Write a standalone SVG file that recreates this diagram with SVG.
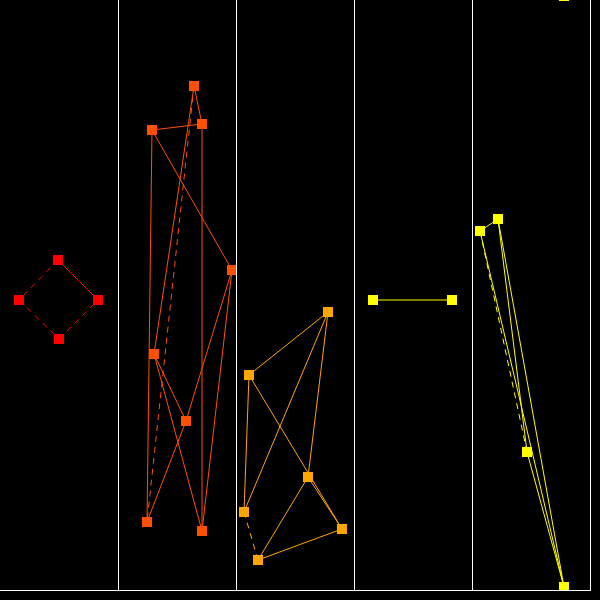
<svg xmlns="http://www.w3.org/2000/svg" width="600" height="600" viewBox="0 0 600 600">
<style>
.bg{fill:#000}
.sep{stroke:#fff;stroke-width:1;fill:none}
.e{stroke-width:1;fill:none}
.d{stroke-dasharray:6,5}
.c1{stroke:#ff0000}.n1{fill:#ff0000}
.c2{stroke:#ff5000}.n2{fill:#ff5000}
.c3{stroke:#ffa500}.n3{fill:#ffa500}
.c4{stroke:#ffff00}.n4{fill:#ffff00}
</style>
<rect class="bg" x="0" y="0" width="600" height="600"/>
<g id="connectors">
<g class="e c1">
<line class="d" x1="58" y1="260" x2="19" y2="300"/>
<line x1="58" y1="260" x2="98" y2="300"/>
<line class="d" x1="19" y1="300" x2="59" y2="339"/>
<line class="d" x1="59" y1="339" x2="98" y2="300"/>
</g>
<g class="e c2">
<line x1="152" y1="130" x2="202" y2="124"/>
<line x1="194" y1="86" x2="202" y2="124"/>
<line x1="152" y1="130" x2="232" y2="270"/>
<line x1="202" y1="124" x2="202" y2="531"/>
<line x1="152" y1="130" x2="147" y2="522"/>
<line x1="194" y1="86" x2="154" y2="354"/>
<line class="d" x1="194" y1="86" x2="147" y2="522"/>
<line x1="232" y1="270" x2="186" y2="421"/>
<line x1="186" y1="421" x2="147" y2="522"/>
<line x1="232" y1="270" x2="202" y2="531"/>
<line x1="154" y1="354" x2="186" y2="421"/>
<line x1="154" y1="354" x2="202" y2="531"/>
</g>
<g class="e c3">
<line x1="249" y1="375" x2="328" y2="312"/>
<line x1="328" y1="312" x2="244" y2="512"/>
<line x1="328" y1="312" x2="308" y2="477"/>
<line x1="249" y1="375" x2="244" y2="512"/>
<line x1="249" y1="375" x2="342" y2="529"/>
<line x1="308" y1="477" x2="342" y2="529"/>
<line x1="308" y1="477" x2="258" y2="560"/>
<line x1="258" y1="560" x2="342" y2="529"/>
<line class="d" x1="244" y1="512" x2="258" y2="560"/>
</g>
<g class="e c4">
<line x1="373" y1="300" x2="452" y2="300"/>
<line x1="480" y1="231" x2="498" y2="219"/>
<line class="d" x1="480" y1="231" x2="527" y2="452"/>
<line x1="480" y1="231" x2="564" y2="587"/>
<line x1="498" y1="219" x2="527" y2="452"/>
<line x1="498" y1="219" x2="564" y2="587"/>
<line x1="527" y1="452" x2="564" y2="587"/>
</g>
</g>
<g id="col1-nodes" class="n1">
<rect id="r1" x="53" y="255" width="10" height="10"/>
<rect id="r2" x="14" y="295" width="10" height="10"/>
<rect id="r3" x="93" y="295" width="10" height="10"/>
<rect id="r4" x="54" y="334" width="10" height="10"/>
</g>
<g id="col2-nodes" class="n2">
<rect id="A" x="189" y="81" width="10" height="10"/>
<rect id="B" x="197" y="119" width="10" height="10"/>
<rect id="C" x="147" y="125" width="10" height="10"/>
<rect id="D" x="227" y="265" width="10" height="10"/>
<rect id="E" x="149" y="349" width="10" height="10"/>
<rect id="F" x="181" y="416" width="10" height="10"/>
<rect id="G" x="142" y="517" width="10" height="10"/>
<rect id="H" x="197" y="526" width="10" height="10"/>
</g>
<g id="col3-nodes" class="n3">
<rect id="P" x="323" y="307" width="10" height="10"/>
<rect id="Q" x="244" y="370" width="10" height="10"/>
<rect id="R" x="303" y="472" width="10" height="10"/>
<rect id="S" x="239" y="507" width="10" height="10"/>
<rect id="T" x="337" y="524" width="10" height="10"/>
<rect id="U" x="253" y="555" width="10" height="10"/>
</g>
<g id="col4-nodes" class="n4">
<rect id="K1" x="368" y="295" width="10" height="10"/>
<rect id="K2" x="447" y="295" width="10" height="10"/>
</g>
<g id="col5-nodes" class="n4">
<rect id="V" x="475" y="226" width="10" height="10"/>
<rect id="W" x="493" y="214" width="10" height="10"/>
<rect id="X" x="522" y="447" width="10" height="10"/>
<rect id="Y" x="559" y="582" width="10" height="8"/>
<rect id="Z" x="559" y="-9" width="10" height="10"/>
</g>
<g id="separators" class="sep">
<line x1="118.5" y1="0" x2="118.5" y2="590"/>
<line x1="236.5" y1="0" x2="236.5" y2="590"/>
<line x1="354.5" y1="0" x2="354.5" y2="590"/>
<line x1="472.5" y1="0" x2="472.5" y2="590"/>
<line x1="590.5" y1="0" x2="590.5" y2="591"/>
<line x1="0" y1="590.5" x2="591" y2="590.5"/>
</g>
</svg>
